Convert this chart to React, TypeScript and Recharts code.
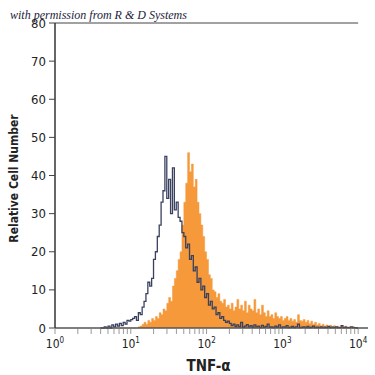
import { ComposedChart, Area, Line, XAxis, YAxis, ReferenceLine, Label } from "recharts";

// histogram channels on a log10 scale
const binStart = 0.6;
const binStep = 0.025;

// TNF-alpha stained cells (orange, filled)
const sampleCounts = [
  0, 0, 0, 0, 0, 0, 0, 0, 0, 0, 0, 0, 0, 0, 0, 0, 0, 0, 0, 0,
  0.3, 0.5, 1, 1.5, 1, 2, 1.5, 2.5, 2, 3,
  2.5, 4, 3.5, 5, 4.5, 6.5, 8, 7, 11, 13,
  15, 18, 20, 27, 33, 38, 46, 41, 43, 37,
  39, 33, 30, 27, 24, 20, 18, 14, 13, 10,
  9.5, 8, 9, 7, 6.5, 7.5, 5.5, 6, 5, 6.5,
  4.5, 5.5, 7.5, 5, 6, 4.5, 7, 4, 6, 5,
  4.5, 7.5, 4, 5, 3.5, 6, 4, 3, 4.5, 3,
  3.5, 2.5, 4, 3, 2.5, 3, 2, 2.5, 3, 2,
  2.5, 1.8, 2.2, 1.5, 3.5, 2, 1.8, 2.2, 1.5, 2,
  1.2, 1.8, 1, 1.5, 0.8, 1.2, 0.6, 1, 0.5, 0.8,
  0.4, 0.7, 0.3, 0.6, 0.3, 0.5, 0.2, 0.4, 0.2, 0.5,
  0.1, 0.3, 0.2, 0.4, 0.1, 0, 0,
];

// isotype control (dark outline)
const controlCounts = [
  0, 0, 0.3, 0, 0.5, 0, 0.8, 0.3, 1, 0.5, 1.2, 0.6, 1.5, 1, 2, 1.8, 2.2,
  2.5, 3, 2, 4, 3.5, 5.5, 7, 9, 12, 11,
  13, 18, 20, 24, 27, 33, 36, 45, 34, 39,
  30, 42, 31, 33, 29, 28, 25, 24, 21, 22,
  18, 19, 15, 16, 12, 13, 10, 11, 8, 9,
  6, 7, 5, 5.5, 3.5, 4, 2.5, 3, 2, 1.5, 1.8,
  1.2, 0.6, 1, 0.4, 0.8, 0.3, 1.5, 0.2, 0.5, 0.9,
  0.3, 0.6, 0.2, 0.8, 0.3, 0.5, 0.1, 0.7, 0.2, 0.4,
  1, 0.2, 0.3, 0.1, 0.5, 0.2, 0.8, 0.1, 0.3, 0.2,
  0.6, 0.1, 0.2, 0.4, 0.1, 0.3, 1, 0.1, 0.2, 0.3,
  0.1, 0.4, 0.1, 0.2, 0.5, 0.1, 0.2, 0.1, 0.3, 0.1,
  0.2, 0.1, 0.4, 0.1, 0.2, 0.1, 0.3, 0.1, 0.1, 0.6,
  0.1, 0.2, 0.1, 0.1, 0.3, 0.1, 0.1, 0, 0,
];

const yTicks = [0, 10, 20, 30, 40, 50, 60, 70, 80];
const decades = [0, 1, 2, 3, 4];
const minorSteps = [2, 3, 4, 5, 6, 7, 8, 9];

const data = sampleCounts.map((v, i) => ({
  x: binStart + i * binStep,
  sample: v,
  control: controlCounts[i] ?? 0,
}));

const xTicks = [
  ...decades,
  ...decades.slice(0, 4).flatMap((d) => minorSteps.map((m) => d + Math.log10(m))),
].sort((a, b) => a - b);

const narrow = "'Liberation Sans Narrow', 'DejaVu Sans Condensed', 'Roboto Condensed', sans-serif";

function LogTick({ x, y, payload }: any) {
  const v = payload.value;
  const major = Math.abs(v - Math.round(v)) < 1e-6;
  return (
    <g>
      <line x1={x} x2={x} y1={y + 1} y2={y + 6} stroke="#9a9a9a" strokeWidth={1} />
      {major && (
        <text x={x} y={y + 20} textAnchor="middle" fontSize={12} fill="#222" fontFamily={narrow}>
          10
          <tspan dy={-5} fontSize={8}>
            {Math.round(v)}
          </tspan>
        </text>
      )}
    </g>
  );
}

export default function App() {
  return (
    <div style={{ position: "fixed", left: 0, top: 0, width: 375, height: 375, background: "#fff" }}>
      <ComposedChart
        width={375}
        height={375}
        data={data}
        margin={{ top: 23, right: 7, bottom: 0, left: 0 }}
      >
        <XAxis
          type="number"
          dataKey="x"
          domain={[0, 4.13]}
          ticks={xTicks}
          interval={0}
          tick={<LogTick />}
          tickLine={false}
          tickSize={0}
          tickMargin={0}
          height={47}
          axisLine={{ stroke: "#555", strokeWidth: 1.5 }}
          allowDataOverflow
        >
          <Label
            content={(p: any) => (
              <text
                x={(p.viewBox?.x ?? 56) + (p.viewBox?.width ?? 312) / 2 - 3}
                y={371}
                textAnchor="middle"
                fontSize={15}
                fontWeight="bold"
                fill="#222"
                fontFamily={narrow}
              >
                TNF-α
              </text>
            )}
          />
        </XAxis>
        <YAxis
          type="number"
          domain={[0, 80]}
          ticks={yTicks}
          width={55}
          tickSize={6}
          tickMargin={3}
          tick={{ fontSize: 13, fill: "#222", fontFamily: narrow }}
          tickLine={{ stroke: "#444" }}
          axisLine={{ stroke: "#333", strokeWidth: 1.5 }}
        >
          <Label
            content={(p: any) => (
              <text
                transform={`translate(18, ${(p.viewBox?.y ?? 23) + (p.viewBox?.height ?? 305) / 2 + 3}) rotate(-90)`}
                textAnchor="middle"
                fontSize={12}
                fontWeight="bold"
                fill="#222"
                fontFamily={narrow}
              >
                Relative Cell Number
              </text>
            )}
          />
        </YAxis>
        <ReferenceLine
          segment={[
            { x: 0, y: 80 },
            { x: 4, y: 80 },
          ]}
          stroke="#444"
          strokeWidth={1}
        />
        <Area
          type="stepAfter"
          dataKey="sample"
          fill="#f5993a"
          fillOpacity={1}
          stroke="#f5993a"
          strokeWidth={0.5}
          isAnimationActive={false}
        />
        <Line
          type="stepAfter"
          dataKey="control"
          stroke="#39415f"
          strokeWidth={1.3}
          dot={false}
          isAnimationActive={false}
        />
      </ComposedChart>
      <div
        style={{
          position: "absolute",
          left: 10,
          top: 9,
          fontFamily: "'Liberation Serif', 'DejaVu Serif', serif",
          fontStyle: "italic",
          fontSize: 12,
          lineHeight: "12px",
          color: "#1c1c3c",
          whiteSpace: "nowrap",
        }}
      >
        with permission from R &amp; D Systems
      </div>
    </div>
  );
}
